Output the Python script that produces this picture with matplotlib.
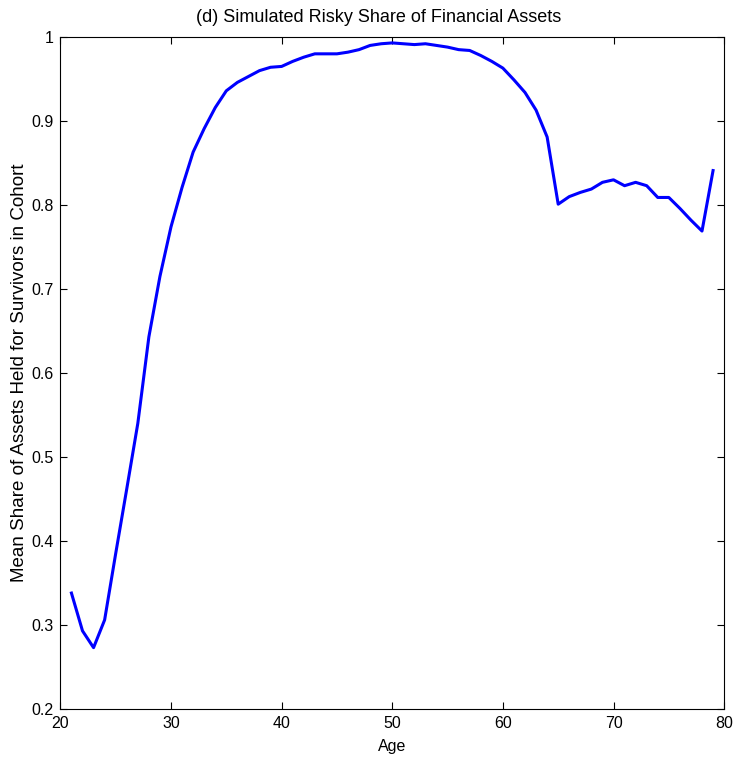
import matplotlib
matplotlib.use("Agg")
import matplotlib.pyplot as plt

ages = list(range(21, 80))
share = [0.338, 0.293, 0.273, 0.306, 0.385, 0.462, 0.540, 0.643, 0.715, 0.774,
         0.821, 0.863, 0.891, 0.916, 0.936, 0.946, 0.953, 0.960, 0.964, 0.965,
         0.971, 0.976, 0.980, 0.980, 0.980, 0.982, 0.985, 0.990, 0.992, 0.993,
         0.992, 0.991, 0.992, 0.990, 0.988, 0.985, 0.984, 0.978, 0.971, 0.963,
         0.949, 0.934, 0.913, 0.881, 0.801, 0.810, 0.815, 0.819, 0.827, 0.830,
         0.823, 0.827, 0.823, 0.809, 0.809, 0.796, 0.782, 0.769, 0.841]

xticks = [20, 30, 40, 50, 60, 70, 80]
yticks = [0.2, 0.3, 0.4, 0.5, 0.6, 0.7, 0.8, 0.9, 1.0]
ytick_labels = ["0.2", "0.3", "0.4", "0.5", "0.6", "0.7", "0.8", "0.9", "1"]

plt.rcParams['font.family'] = ['Liberation Sans', 'DejaVu Sans']

fig = plt.figure(figsize=(7.5, 7.62), dpi=100)
ax = fig.add_axes([0.0805, 0.0696, 0.885, 0.8818])
ax.plot(ages, share, color=(0, 0, 1), linewidth=2.2)
ax.set_xlim(20, 80)
ax.set_ylim(0.2, 1.0)
ax.set_xticks(xticks)
ax.set_xticklabels([str(t) for t in xticks])
ax.set_yticks(yticks)
ax.set_yticklabels(ytick_labels)
ax.tick_params(direction='in', top=True, right=True, length=5, width=0.8,
               labelsize=11.5, pad=5)
for s in ax.spines.values():
    s.set_linewidth(0.8)
ax.set_xlabel("Age", fontsize=11.5, labelpad=6)
ax.set_ylabel("Mean Share of Assets Held for Survivors in Cohort", fontsize=13.5, labelpad=2)
ax.set_title("(d) Simulated Risky Share of Financial Assets", fontsize=13, pad=11, x=0.48)
fig.savefig("out.png", dpi=100)
